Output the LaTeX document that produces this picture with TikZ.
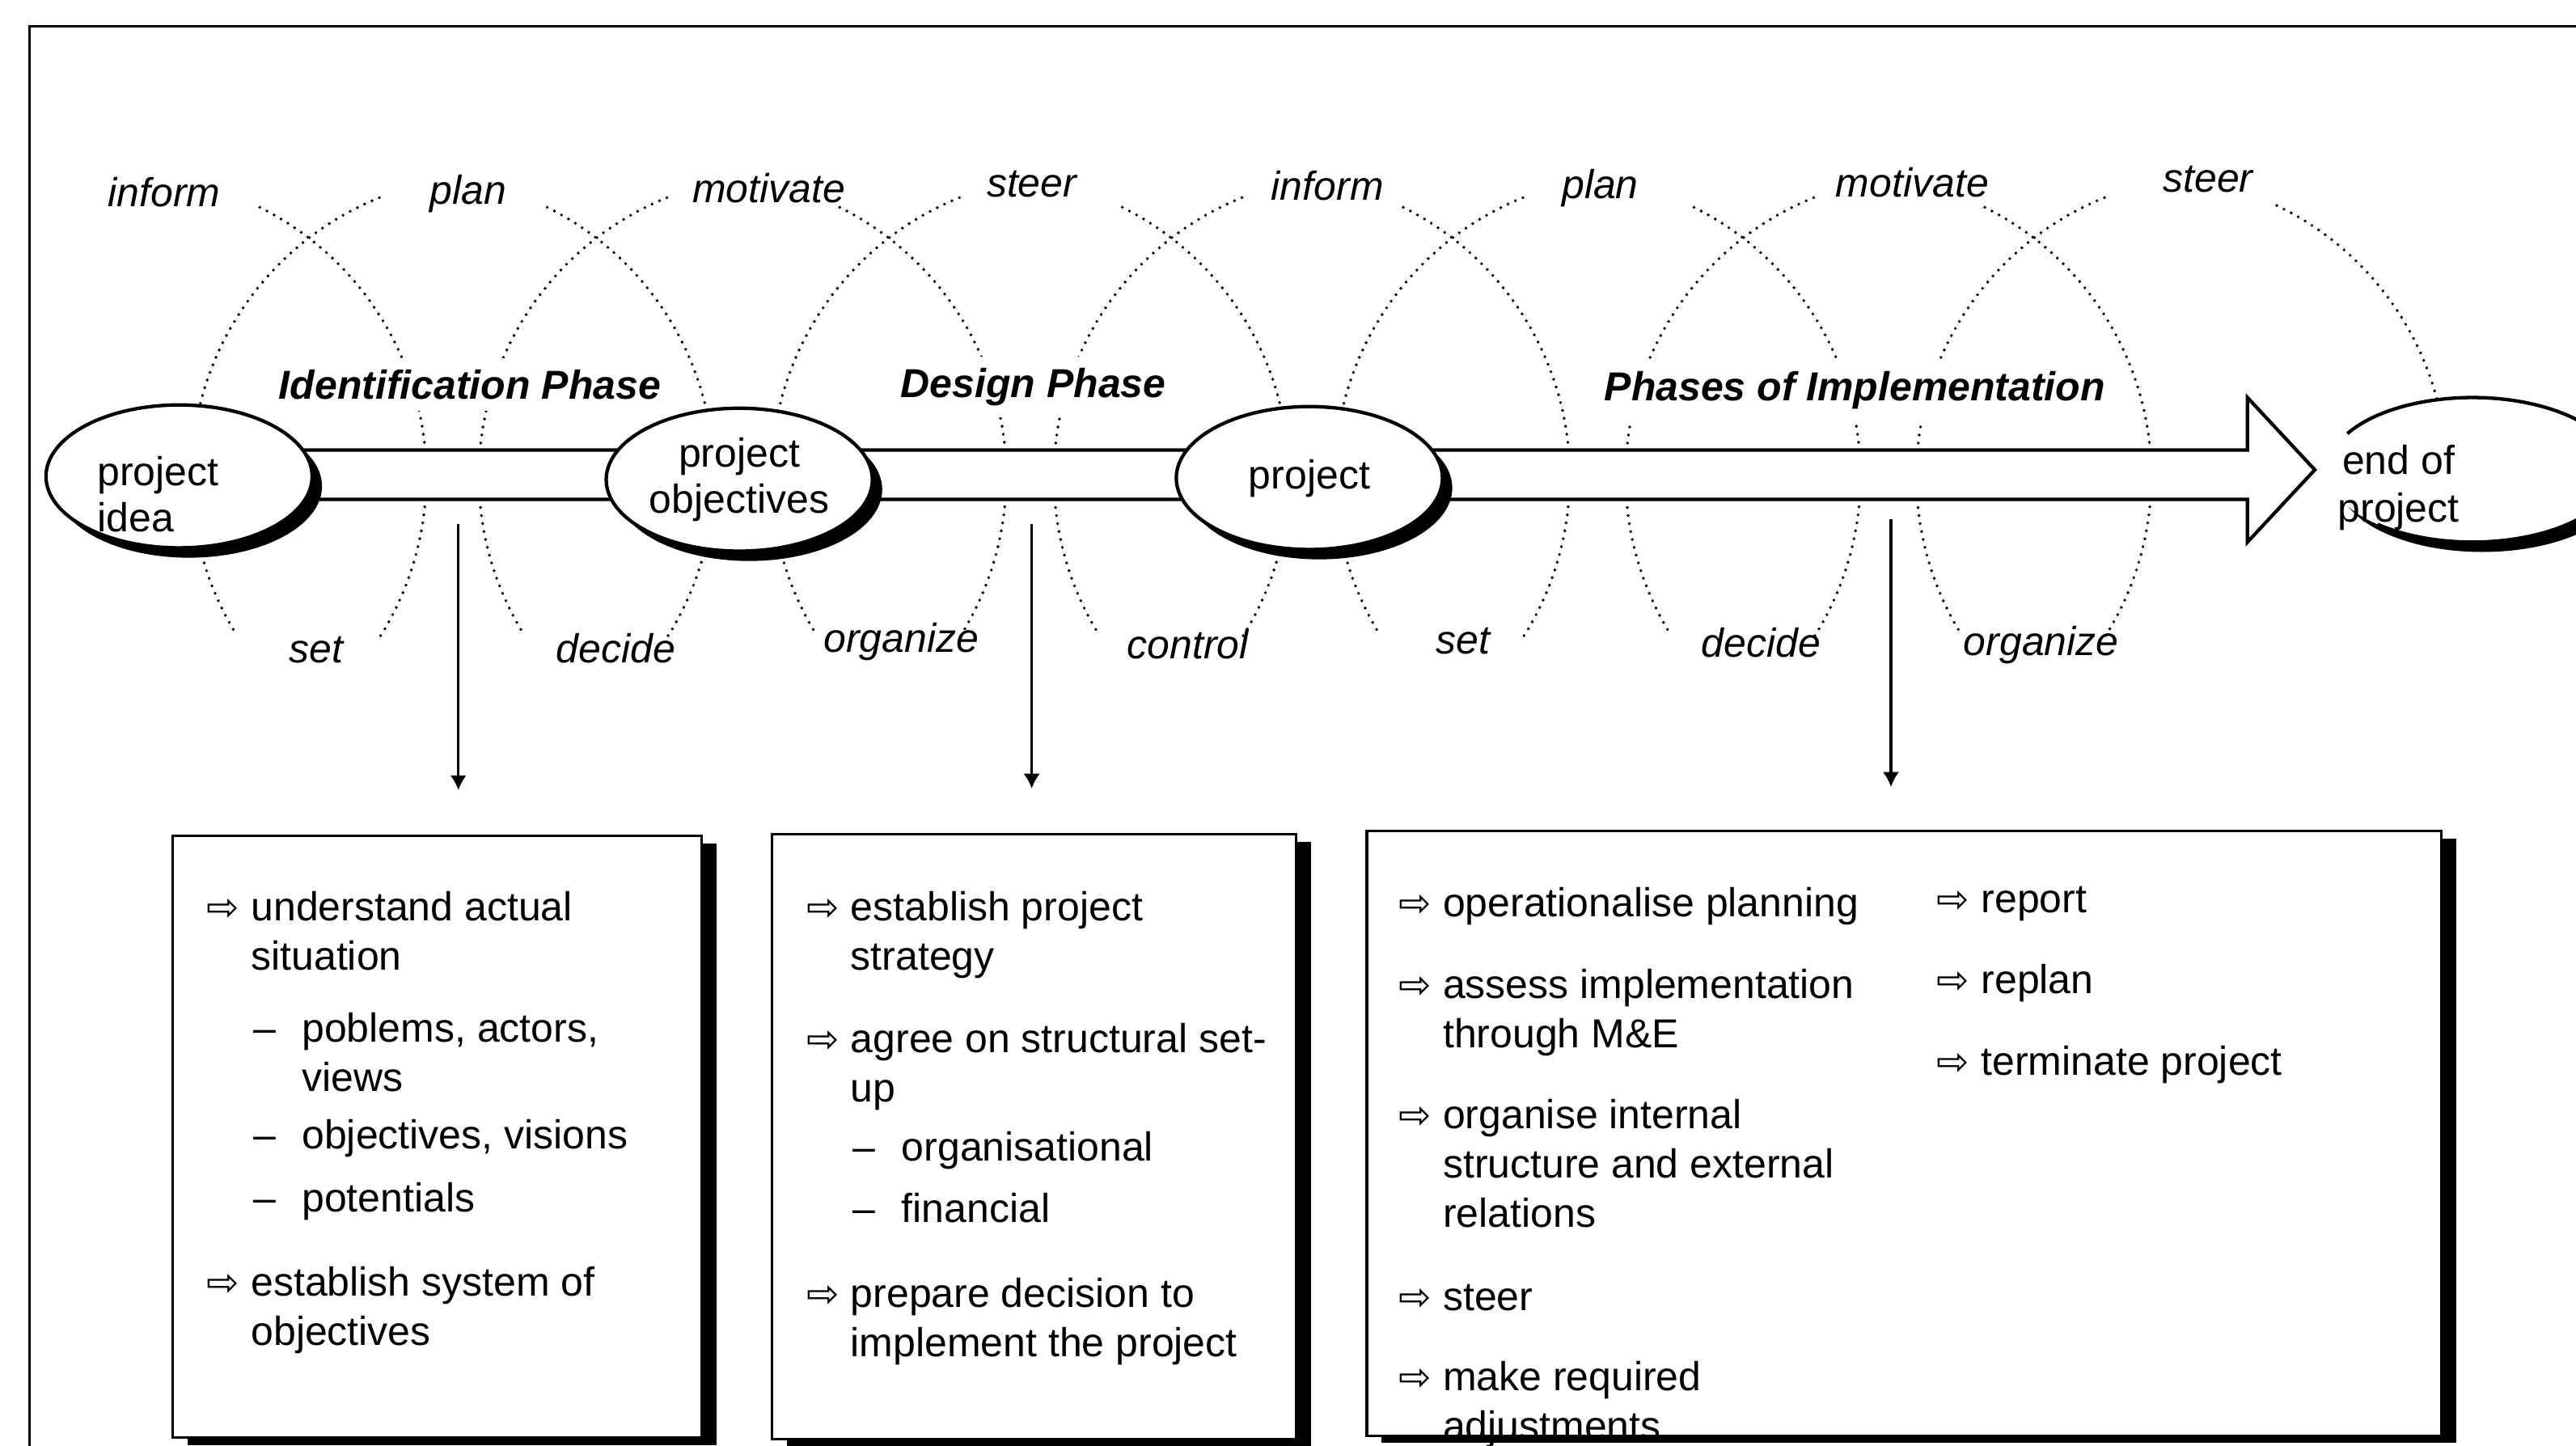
\documentclass[tikz,border=0pt]{standalone}
\usepackage{fontspec}
\setmainfont{Liberation Sans}
\newfontfamily\arrowfont{DejaVu Sans}
\usetikzlibrary{shapes.geometric,shadows,arrows.meta}

% white arrow bullet and dash sub-bullet for the task lists
\newcommand{\garrow}{\makebox[5.4mm][l]{\arrowfont\fontsize{13.5}{13.5}\selectfont ⇨}}
\newcommand{\dashitm}{\makebox[6.2mm][l]{\hspace{0.3mm}–}}

\tikzset{
  oval/.style={ellipse, draw, line width=1.2pt, fill=white, minimum width=32.4mm,
    minimum height=17.4mm, inner sep=0pt, align=center, font=\fontsize{14}{16}\selectfont,
    drop shadow={shadow xshift=1.2mm, shadow yshift=-1.2mm, fill=black, opacity=1}},
  band/.style={draw, line width=1.2pt, fill=white, line join=miter},
  dotarc/.style={line width=1.1pt, line cap=round, dash pattern=on 0pt off 2.8pt},
  task/.style={font=\fontsize{14}{17}\selectfont\itshape, anchor=base, inner sep=0pt},
  phase/.style={font=\fontsize{14}{17}\selectfont\bfseries\itshape, anchor=base, fill=white,
    inner xsep=2pt, inner ysep=4pt},
  infobox/.style={draw, line width=0.85pt, fill=white, inner sep=0pt,
    drop shadow={shadow xshift=1.8mm, shadow yshift=-0.9mm, fill=black, opacity=1}},
  infotext/.style={anchor=base west, inner sep=0pt},
  conn/.style={-{Latex[length=1.8mm,width=2mm]}, line width=0.9pt}
}

\begin{document}
\begin{tikzpicture}[x=0.2mm, y=-0.2mm, font=\fontsize{14}{17.07}\selectfont]
\useasboundingbox (0,0) rectangle (1568,880);
% frame
\draw[line width=0.8pt] (18,880) -- (18,16) -- (1568,16);

% dotted arcs round the band
\foreach \c in {188,363,541,713,884,1061,1238} {
  \draw[dotarc] (\c-111.5,290) ++(32:183) arc[start angle=32, end angle=-65, radius=183];
  \draw[dotarc] (\c+111.5,290) ++(-112:183) arc[start angle=-112, end angle=-212, radius=183];
}
\draw[dotarc] (1306.5,290) ++(-15:183) arc[start angle=-15, end angle=-65, radius=183];

% the project band
\draw[band] (150,274) -- (1368,274) -- (1368,242) -- (1409,286) -- (1368,330)
  -- (1368,304) -- (150,304) -- cycle;

% milestones
\node[oval] (idea) at (109,290) {};
\node[anchor=west, align=left, inner sep=0pt, font=\fontsize{14}{16}\selectfont] (ideatext) at (59,301) {project\\idea};
\node[oval] (obj) at (450,292) {project\\objectives};
\node[oval] (proj) at (797,291) {project};
\node[oval, draw=none, minimum width=35.2mm, minimum height=17.6mm] (endp) at (1505,286) {};
\draw[line width=1.2pt] (endp.center) ++(-150:88 and 44)
  arc[start angle=-150, end angle=131, x radius=88, y radius=44];
\node[align=center, inner sep=0pt, font=\fontsize{14}{16.5}\selectfont] (endtext) at (1460,297) {end of\\project};

% phases
\node[phase] (idph) at (286,243) {Identification Phase};
\node[phase] (desph) at (629,242) {Design Phase};
\node[phase] (impph) at (1129,244) {Phases of Implementation};

% management tasks
\foreach \x/\y/\t [count=\i] in {100/125.6/inform, 285/124.4/plan, 468/123.3/motivate,
    628/120/steer, 808/122/inform, 974/121/plan, 1164/120/motivate, 1344/116.7/steer}
  \node[task] (top\i) at (\x,\y) {\t};
\foreach \x/\y/\t [count=\i] in {192.6/403.6/set, 374.8/403.6/decide, 548.5/397/organize,
    723/401/control, 890.5/398/set, 1072/400/decide, 1242.4/399/organize}
  \node[task] (bot\i) at (\x,\y) {\t};

% boxes
\node[infobox, minimum width=64.4mm, minimum height=73.2mm] (idbox) at (266,692) {};
\node[infobox, minimum width=63.8mm, minimum height=73.6mm] (desbox) at (629.5,692) {};
\node[infobox, minimum width=130.8mm, minimum height=73.6mm] (impbox) at (1159,690) {};

\node[infotext] (idtext) at (125.5,560.4) {\begin{tabular}[t]{@{}l@{}l@{}}
  \garrow & understand actual\\
          & situation\\[2.8mm]
          & \dashitm poblems, actors,\\
          & \hspace{6.2mm}views\\[1mm]
          & \dashitm objectives, visions\\[1.7mm]
          & \dashitm potentials\\[4.2mm]
  \garrow & establish system of\\
          & objectives
\end{tabular}};
\node[infotext] (destext) at (490.5,560.4) {\begin{tabular}[t]{@{}l@{}l@{}}
  \garrow & establish project\\
          & strategy\\[4.1mm]
  \garrow & agree on structural set-\\
          & up\\[1.2mm]
          & \dashitm organisational\\[1.4mm]
          & \dashitm financial\\[4.4mm]
  \garrow & prepare decision to\\
          & implement the project
\end{tabular}};
\node[infotext] (imptext) at (851,558.1) {\begin{tabular}[t]{@{}l@{}l@{}}
  \garrow & operationalise planning\\[3.9mm]
  \garrow & assess implementation\\
          & through M\&E\\[3.9mm]
  \garrow & organise internal\\
          & structure and external\\
          & relations\\[4.1mm]
  \garrow & steer\\[3.8mm]
  \garrow & make required\\
          & adjustments
\end{tabular}};
\node[infotext] (imptextb) at (1178.6,555.4) {\begin{tabular}[t]{@{}l@{}l@{}}
  \garrow & report\\[3.9mm]
  \garrow & replan\\[3.9mm]
  \garrow & terminate project
\end{tabular}};

% arrows down to the boxes
\coordinate (s1) at (279,319);  \coordinate (e1) at (279,481);
\coordinate (s2) at (628,319);  \coordinate (e2) at (628,480);
\coordinate (s3) at (1151,316); \coordinate (e3) at (1151,479);
\draw[conn] (s1) -- (e1);
\draw[conn] (s2) -- (e2);
\draw[conn] (s3) -- (e3);
\end{tikzpicture}
\end{document}
